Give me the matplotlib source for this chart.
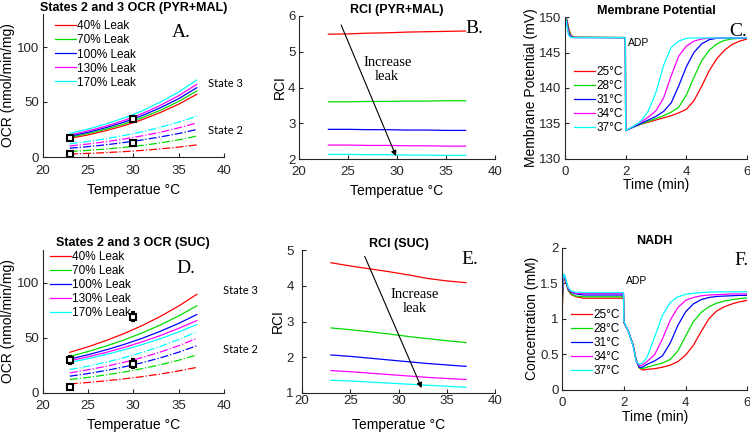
import numpy as np
import matplotlib.pyplot as plt

plt.rcParams['font.family'] = ['Liberation Sans', 'DejaVu Sans']

# colours / labels
colors = ['#ff0000', '#00dd00', '#0000ff', '#ff00ff', '#00ffff']
leak_labels = ['40% Leak', '70% Leak', '100% Leak', '130% Leak', '170% Leak']
temp_labels = ['25°C', '28°C', '31°C', '34°C', '37°C']

# temperature axis for OCR / RCI panels
temps = [23, 25, 27, 29, 31, 33, 35, 37]

# A: OCR PYR+MAL, state 3 (solid) and state 2 (dash-dot), per leak
ocr_pm_s3 = [
    [17.0, 20.0, 24.0, 28.5, 34.0, 40.5, 48.0, 57.0],
    [18.0, 21.3, 25.3, 30.0, 35.8, 42.5, 50.5, 60.0],
    [19.0, 22.5, 26.7, 31.7, 37.7, 44.8, 53.0, 63.0],
    [20.0, 23.7, 28.0, 33.3, 39.5, 47.0, 55.7, 66.0],
    [21.5, 25.3, 30.0, 35.5, 42.0, 50.0, 59.0, 70.0],
]
ocr_pm_s2 = [
    [2.7, 3.3, 4.0, 4.9, 6.0, 7.4, 9.0, 11.0],
    [5.0, 6.0, 7.3, 8.8, 10.6, 12.8, 15.6, 19.0],
    [8.0, 9.4, 11.1, 13.2, 15.5, 18.3, 21.3, 25.0],
    [10.0, 11.8, 13.9, 16.4, 19.3, 22.5, 26.5, 31.0],
    [12.0, 14.1, 16.6, 19.6, 23.0, 27.0, 31.7, 37.0],
]
exp_pm_t = [23, 30, 23, 30]
exp_pm_y = [17.5, 35.0, 3.0, 12.5]
exp_pm_err = [2.0, 2.0, 1.0, 1.5]

# D: OCR SUC
ocr_suc_s3 = [
    [36.7, 41.7, 47.4, 53.8, 61.1, 69.4, 78.8, 89.4],
    [33.0, 37.4, 42.4, 48.0, 54.4, 61.6, 69.8, 79.0],
    [30.6, 34.5, 38.9, 43.9, 49.5, 55.9, 63.0, 71.0],
    [29.0, 32.6, 36.6, 41.2, 46.3, 52.0, 58.5, 65.5],
    [27.5, 30.9, 34.7, 39.0, 43.8, 49.2, 55.2, 62.0],
]
ocr_suc_s2 = [
    [8.0, 9.3, 10.8, 12.6, 14.6, 17.0, 19.8, 23.0],
    [12.0, 13.9, 16.2, 18.8, 21.9, 25.4, 29.5, 34.3],
    [15.0, 17.4, 20.2, 23.5, 27.3, 31.7, 36.8, 42.7],
    [18.0, 20.8, 24.0, 27.7, 32.0, 37.0, 42.7, 49.4],
    [21.0, 24.1, 27.7, 31.9, 36.6, 42.1, 48.3, 55.5],
]
exp_suc_t = [23, 30, 23, 30]
exp_suc_y = [30.0, 69.0, 5.0, 26.5]
exp_suc_err = [3.5, 4.0, 1.0, 4.0]

# B / E: RCI
rci_pm = [
    [5.49, 5.50, 5.52, 5.53, 5.55, 5.56, 5.57, 5.58],
    [3.60, 3.60, 3.61, 3.61, 3.62, 3.62, 3.63, 3.63],
    [2.83, 2.83, 2.82, 2.82, 2.81, 2.81, 2.80, 2.80],
    [2.39, 2.39, 2.38, 2.38, 2.37, 2.37, 2.36, 2.36],
    [2.13, 2.13, 2.12, 2.12, 2.11, 2.11, 2.10, 2.10],
]
rci_suc = [
    [4.65, 4.56, 4.48, 4.40, 4.31, 4.21, 4.14, 4.09],
    [2.82, 2.77, 2.71, 2.65, 2.58, 2.52, 2.46, 2.41],
    [2.06, 2.02, 1.97, 1.92, 1.87, 1.82, 1.78, 1.74],
    [1.62, 1.59, 1.55, 1.51, 1.47, 1.43, 1.40, 1.37],
    [1.35, 1.33, 1.30, 1.27, 1.24, 1.21, 1.18, 1.15],
]

# C: membrane potential vs time
t_c = [0, 0.03, 0.07, 0.12, 0.2, 0.3, 1.99, 2.0, 2.25, 2.5, 2.75, 3.0, 3.25,
       3.5, 3.75, 4.0, 4.25, 4.5, 4.75, 5.0, 5.25, 5.5, 5.75, 6.0]
dpsi = [
    [150.0, 150.0, 149.6, 148.4, 147.4, 147.15, 147.1, 134.0, 134.5, 134.9, 135.2, 135.5, 135.8,
     136.1, 136.5, 137.0, 138.2, 140.2, 142.4, 144.1, 145.3, 146.1, 146.6, 146.9],
    [150.0, 150.0, 149.4, 148.1, 147.3, 147.13, 147.1, 134.0, 134.5, 134.9, 135.3, 135.7, 136.1,
     136.6, 137.3, 139.0, 141.5, 143.8, 145.3, 146.2, 146.7, 146.9, 147.0, 147.0],
    [150.0, 149.9, 149.1, 147.8, 147.2, 147.12, 147.1, 134.0, 134.5, 135.0, 135.5, 136.0, 136.7,
     137.9, 140.3, 143.0, 145.0, 146.2, 146.8, 147.0, 147.05, 147.05, 147.05, 147.05],
    [150.0, 149.9, 148.8, 147.6, 147.15, 147.1, 147.1, 134.0, 134.6, 135.2, 135.9, 136.8, 138.6,
     141.7, 144.5, 145.9, 146.6, 146.9, 147.0, 147.05, 147.05, 147.05, 147.05, 147.05],
    [150.0, 149.8, 148.5, 147.4, 147.12, 147.1, 147.1, 134.0, 134.6, 135.3, 136.8, 139.4, 143.2,
     145.7, 146.6, 147.0, 147.05, 147.05, 147.05, 147.05, 147.05, 147.05, 147.05, 147.05],
]

# F: NADH vs time
t_f = [0, 0.03, 0.07, 0.12, 0.2, 0.3, 0.45, 0.7, 1.99, 2.0, 2.15, 2.3, 2.4, 2.5, 2.6,
       2.75, 3.0, 3.25, 3.5, 3.75, 4.0, 4.25, 4.5, 4.75, 5.0, 5.25, 5.5, 5.75, 6.0]
nadh = [
    [0.99, 1.40, 1.60, 1.52, 1.40, 1.34, 1.31, 1.29, 1.29, 0.95, 0.82, 0.64, 0.43, 0.31, 0.28,
     0.29, 0.30, 0.32, 0.35, 0.40, 0.49, 0.63, 0.82, 1.00, 1.11, 1.17, 1.21, 1.24, 1.26],
    [1.08, 1.45, 1.61, 1.53, 1.41, 1.35, 1.32, 1.31, 1.31, 0.95, 0.82, 0.63, 0.42, 0.31, 0.30,
     0.32, 0.35, 0.38, 0.43, 0.55, 0.76, 0.96, 1.09, 1.17, 1.22, 1.25, 1.27, 1.285, 1.295],
    [1.15, 1.50, 1.62, 1.54, 1.42, 1.37, 1.35, 1.335, 1.335, 0.96, 0.82, 0.63, 0.41, 0.32, 0.32,
     0.36, 0.41, 0.48, 0.66, 0.91, 1.10, 1.21, 1.27, 1.30, 1.315, 1.32, 1.325, 1.33, 1.33],
    [1.22, 1.53, 1.62, 1.55, 1.43, 1.38, 1.36, 1.355, 1.355, 0.96, 0.82, 0.62, 0.40, 0.34, 0.35,
     0.40, 0.50, 0.72, 0.98, 1.16, 1.26, 1.30, 1.325, 1.335, 1.34, 1.345, 1.35, 1.35, 1.35],
    [1.28, 1.56, 1.63, 1.56, 1.44, 1.39, 1.375, 1.37, 1.37, 0.97, 0.82, 0.62, 0.40, 0.36, 0.38,
     0.46, 0.75, 1.05, 1.23, 1.31, 1.345, 1.36, 1.37, 1.375, 1.38, 1.38, 1.38, 1.38, 1.38],
]

tick_color = '#262626'
W, H = 750.0, 432.0
fig = plt.figure(figsize=(7.5, 4.32), dpi=100)


def axes_px(left, top, width, height):
    return fig.add_axes([left / W, 1 - (top + height) / H, width / W, height / H])


def style(ax, xlim, ylim, xticks, yticks, xpad=5.2, xlabpad=0.5, ypad=2.5, ylabpad=1):
    ax.set_xlim(xlim)
    ax.set_ylim(ylim)
    ax.set_xticks(xticks)
    ax.set_yticks(yticks)
    ax.spines['top'].set_visible(False)
    ax.spines['right'].set_visible(False)
    for s in ['left', 'bottom']:
        ax.spines[s].set_color(tick_color)
        ax.spines[s].set_linewidth(0.8)
    ax.tick_params(direction='in', length=3, labelsize=9.5, colors=tick_color)
    ax.tick_params(axis='x', pad=xpad)
    ax.tick_params(axis='y', pad=ypad)
    ax.xaxis.labelpad = xlabpad
    ax.yaxis.labelpad = ylabpad


def title(ax, txt):
    ax.set_title(txt, fontsize=9, fontweight='bold', pad=2.5)


def letter(ax, x, y, txt):
    ax.text(x, y, txt, family='Liberation Serif', fontsize=14, ha='center', va='center')


def legend(ax, handles, labels, x, y):
    ax.legend(handles, labels, loc='center left', bbox_to_anchor=(x / W, 1 - y / H),
              bbox_transform=fig.transFigure, frameon=False, fontsize=8.5, handlelength=1.8,
              handletextpad=0.1, labelspacing=0.17, borderpad=0, borderaxespad=0)


def arrow(ax, start, end):
    ax.annotate('', xy=end, xytext=start,
                arrowprops=dict(arrowstyle='-|>', color='k', lw=0.8, mutation_scale=8,
                                shrinkA=0, shrinkB=0))


# ---- A ----
ax = axes_px(42.5, 14, 181.5, 143)
for i in range(5):
    ax.plot(temps, ocr_pm_s3[i], color=colors[i], lw=0.9)
for i in range(5):
    ax.plot(temps, ocr_pm_s2[i], color=colors[i], lw=0.9, ls='-.')
ax.errorbar(exp_pm_t, exp_pm_y, yerr=exp_pm_err, fmt='s', color='k', mfc='white',
            mec='k', mew=1.5, ms=4.5, capsize=1.5, elinewidth=1)
style(ax, (20, 40), (0, 130), [20, 25, 30, 35, 40], [0, 50, 100], xpad=5.6, xlabpad=4.2)
title(ax, 'States 2 and 3 OCR (PYR+MAL)')
ax.set_xlabel('Temperatue °C', fontsize=10)
ax.set_ylabel('OCR (nmol/min/mg)', fontsize=10)
ax.text(38.2, 67, 'State 3', family='Lato', fontsize=8, va='center', clip_on=False)
ax.text(38.2, 24.5, 'State 2', family='Lato', fontsize=8, va='center', clip_on=False)
letter(ax, 35.3, 113.5, 'A.')
legend(ax, ax.get_lines()[:5], leak_labels, 55, 54.5)

# ---- B ----
ax = axes_px(299, 16, 196, 143)
for i in range(5):
    ax.plot(temps, rci_pm[i], color=colors[i], lw=0.9)
style(ax, (20, 40), (2, 6), [20, 25, 30, 35, 40], [2, 3, 4, 5, 6], xpad=4.9, xlabpad=4.2)
title(ax, 'RCI (PYR+MAL)')
ax.set_xlabel('Temperatue °C', fontsize=10)
ax.set_ylabel('RCI', fontsize=10)
arrow(ax, (24.3, 5.75), (29.9, 2.08))
ax.text(29.0, 4.5, 'Increase\nleak', family='Liberation Serif', fontsize=10.5,
        ha='center', va='center', linespacing=1.1)
letter(ax, 37.9, 5.64, 'B.')

# ---- C ----
ax = axes_px(565, 17, 182, 142)
for i in range(5):
    ax.plot(t_c, dpsi[i], color=colors[i], lw=0.9)
style(ax, (0, 6), (130, 150), [0, 2, 4, 6], [130, 135, 140, 145, 150], xpad=4.9, xlabpad=0.3)
title(ax, 'Membrane Potential')
ax.set_xlabel('Time (min)', fontsize=10)
ax.set_ylabel('Membrane Potential (mV)', fontsize=10)
ax.text(2.06, 146.3, 'ADP', fontsize=7.5, va='center')
letter(ax, 5.7, 148, 'C.')
legend(ax, ax.get_lines(), temp_labels, 574, 99.8)

# ---- D ----
ax = axes_px(42.5, 249.7, 181.5, 143)
for i in range(5):
    ax.plot(temps, ocr_suc_s3[i], color=colors[i], lw=0.9)
for i in range(5):
    ax.plot(temps, ocr_suc_s2[i], color=colors[i], lw=0.9, ls='-.')
ax.errorbar(exp_suc_t, exp_suc_y, yerr=exp_suc_err, fmt='s', color='k', mfc='white',
            mec='k', mew=1.5, ms=4.5, capsize=1.5, elinewidth=1)
style(ax, (20, 40), (0, 130), [20, 25, 30, 35, 40], [0, 50, 100], xpad=5.6, xlabpad=4.2)
title(ax, 'States 2 and 3 OCR (SUC)')
ax.set_xlabel('Temperatue °C', fontsize=10)
ax.set_ylabel('OCR (nmol/min/mg)', fontsize=10)
ax.text(39.9, 92.5, 'State 3', family='Lato', fontsize=8, va='center', clip_on=False)
ax.text(39.9, 39.7, 'State 2', family='Lato', fontsize=8, va='center', clip_on=False)
letter(ax, 35.8, 113, 'D.')
legend(ax, ax.get_lines()[:5], leak_labels, 50, 284.7)

# ---- E ----
ax = axes_px(302, 250.3, 193, 142.4)
for i in range(5):
    ax.plot(temps, rci_suc[i], color=colors[i], lw=0.9)
style(ax, (20, 40), (1, 5), [20, 25, 30, 35, 40], [1, 2, 3, 4, 5],
      xpad=1.5, xlabpad=8, ypad=6, ylabpad=1)
title(ax, 'RCI (SUC)')
ax.set_xlabel('Temperatue °C', fontsize=10)
ax.set_ylabel('RCI', fontsize=10)
arrow(ax, (26.5, 4.83), (32.4, 1.13))
ax.text(31.7, 3.55, 'Increase\nleak', family='Liberation Serif', fontsize=10.5,
        ha='center', va='center', linespacing=1.1)
letter(ax, 37.4, 4.75, 'E.')

# ---- F ----
ax = axes_px(562, 247.7, 185.5, 142.3)
for i in range(5):
    ax.plot(t_f, nadh[i], color=colors[i], lw=0.9)
style(ax, (0, 6), (0, 2), [0, 2, 4, 6], [0, 0.5, 1, 1.5, 2], xpad=4.9)
ax.set_yticklabels(['0', '0.5', '1', '1.5', '2'])
title(ax, 'NADH')
ax.set_xlabel('Time (min)', fontsize=10)
ax.set_ylabel('Concentration (mM)', fontsize=10)
ax.text(2.06, 1.53, 'ADP', fontsize=7.5, va='center')
letter(ax, 5.8, 1.82, 'F.')
legend(ax, ax.get_lines(), temp_labels, 571, 343.3)

fig.savefig('out.png', dpi=100)
